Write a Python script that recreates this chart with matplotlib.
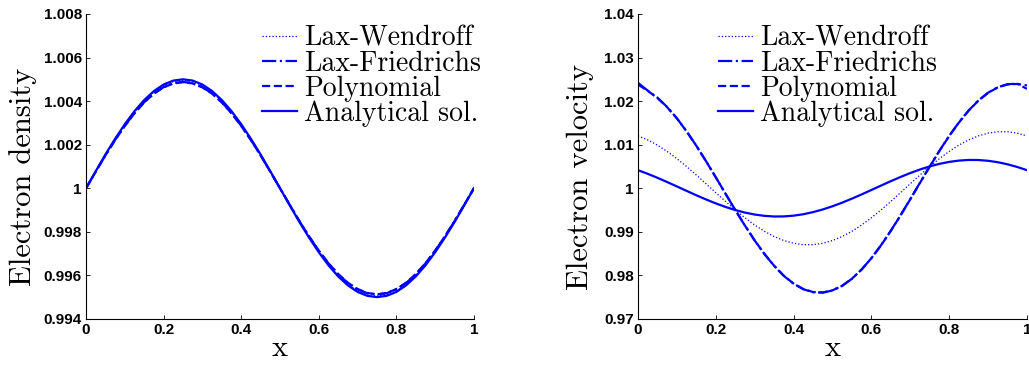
import matplotlib
matplotlib.use('Agg')
import matplotlib.pyplot as plt
import numpy as np

# grid of x values (step 0.025)
x = np.linspace(0, 1, 41)

# left panel: electron density
rho_ana = [1.0, 1.00078, 1.00155, 1.00227, 1.00294, 1.00354, 1.00405, 1.00446, 1.00476, 1.00494,
           1.005, 1.00494, 1.00476, 1.00446, 1.00405, 1.00354, 1.00294, 1.00227, 1.00155, 1.00078,
           1.0, 0.99922, 0.99845, 0.99773, 0.99706, 0.99646, 0.99595, 0.99554, 0.99524, 0.99506,
           0.995, 0.99506, 0.99524, 0.99554, 0.99595, 0.99646, 0.99706, 0.99773, 0.99845, 0.99922, 1.0]
rho_lw = [1.0, 1.00077, 1.00153, 1.00225, 1.00291, 1.0035, 1.004, 1.00441, 1.00471, 1.00489,
          1.00495, 1.00489, 1.00471, 1.00441, 1.004, 1.0035, 1.00291, 1.00225, 1.00153, 1.00077,
          1.0, 0.99923, 0.99847, 0.99775, 0.99709, 0.9965, 0.996, 0.99559, 0.99529, 0.99511,
          0.99505, 0.99511, 0.99529, 0.99559, 0.996, 0.9965, 0.99709, 0.99775, 0.99847, 0.99923, 1.0]
rho_lf = [1.0, 1.00076, 1.00151, 1.00222, 1.00287, 1.00345, 1.00395, 1.00435, 1.00464, 1.00482,
          1.00488, 1.00482, 1.00464, 1.00435, 1.00395, 1.00345, 1.00287, 1.00222, 1.00151, 1.00076,
          1.0, 0.99924, 0.99849, 0.99778, 0.99713, 0.99655, 0.99605, 0.99565, 0.99536, 0.99518,
          0.99512, 0.99518, 0.99536, 0.99565, 0.99605, 0.99655, 0.99713, 0.99778, 0.99849, 0.99924, 1.0]
rho_poly = [1.0, 1.00076, 1.00151, 1.00221, 1.00286, 1.00344, 1.00394, 1.00434, 1.00463, 1.00481,
            1.00487, 1.00481, 1.00463, 1.00434, 1.00394, 1.00344, 1.00286, 1.00221, 1.00151, 1.00076,
            1.0, 0.99924, 0.99849, 0.99779, 0.99714, 0.99656, 0.99606, 0.99566, 0.99537, 0.99519,
            0.99513, 0.99519, 0.99537, 0.99566, 0.99606, 0.99656, 0.99714, 0.99779, 0.99849, 0.99924, 1.0]

# right panel: electron velocity
u_ana = [1.00414, 1.00331, 1.00239, 1.00142, 1.00041, 0.99939, 0.99838, 0.99742, 0.99652, 0.9957,
         0.99499, 0.99441, 0.99396, 0.99366, 0.99351, 0.99353, 0.9937, 0.99403, 0.99451, 0.99512,
         0.99586, 0.99669, 0.99761, 0.99858, 0.99959, 1.00061, 1.00162, 1.00258, 1.00348, 1.0043,
         1.00501, 1.00559, 1.00604, 1.00634, 1.00649, 1.00647, 1.0063, 1.00597, 1.00549, 1.00488, 1.00414]
u_lw = [1.01201, 1.01108, 1.00989, 1.00844, 1.00679, 1.00498, 1.00303, 1.00102, 0.99898, 0.99697,
        0.99502, 0.99321, 0.99156, 0.99011, 0.98892, 0.98799, 0.98736, 0.98704, 0.98704, 0.98736,
        0.98799, 0.98892, 0.99011, 0.99156, 0.99321, 0.99502, 0.99697, 0.99898, 1.00102, 1.00303,
        1.00498, 1.00679, 1.00844, 1.00989, 1.01108, 1.01201, 1.01264, 1.01296, 1.01296, 1.01264, 1.01201]
u_lf = [1.0242, 1.02241, 1.02078, 1.01865, 1.01606, 1.01307, 1.00976, 1.00621, 1.00251, 0.99874,
        0.99501, 0.9914, 0.988, 0.9849, 0.98217, 0.97987, 0.97808, 0.97682, 0.97613, 0.97603,
        0.97653, 0.97759, 0.97922, 0.98135, 0.98394, 0.98693, 0.99024, 0.99379, 0.99749, 1.00126,
        1.00499, 1.0086, 1.012, 1.0151, 1.01783, 1.02013, 1.02192, 1.02318, 1.02387, 1.024, 1.0228]
u_poly = [1.0238, 1.02235, 1.02072, 1.0186, 1.01602, 1.01304, 1.00974, 1.0062, 1.00251, 0.99875,
          0.99503, 0.99143, 0.98804, 0.98494, 0.98221, 0.97991, 0.97812, 0.97686, 0.97617, 0.97607,
          0.97656, 0.97761, 0.97923, 0.98135, 0.98393, 0.98691, 0.99021, 0.99375, 0.99745, 1.00122,
          1.00495, 1.00856, 1.01196, 1.01506, 1.01779, 1.02009, 1.02188, 1.02314, 1.02383, 1.02393, 1.0236]

labels = ['Lax-Wendroff', 'Lax-Friedrichs', 'Polynomial', 'Analytical sol.']
xticks = [0, 0.2, 0.4, 0.6, 0.8, 1]
xticklabels = ['0', '0.2', '0.4', '0.6', '0.8', '1']
rho_ticks = [0.994, 0.996, 0.998, 1.0, 1.002, 1.004, 1.006, 1.008]
rho_ticklabels = ['0.994', '0.996', '0.998', '1', '1.002', '1.004', '1.006', '1.008']
u_ticks = [0.97, 0.98, 0.99, 1.0, 1.01, 1.02, 1.03, 1.04]
u_ticklabels = ['0.97', '0.98', '0.99', '1', '1.01', '1.02', '1.03', '1.04']

blue = '#0000ff'
serif = ['cmr10', 'Liberation Serif']

fig = plt.figure(figsize=(10.29, 3.67), dpi=100)
ax1 = fig.add_axes([0.0836, 0.131, 0.377, 0.831])
ax2 = fig.add_axes([0.620, 0.131, 0.378, 0.831])


def draw(ax, lw, lf, poly, ana, ylabel, yticks, yticklabels, legx, labx):
    ax.plot(x, lw, color=blue, ls=':', lw=0.9, label=labels[0])
    ax.plot(x, lf, color=blue, ls='-.', lw=1.6, label=labels[1])
    ax.plot(x, poly, color=blue, ls='--', lw=1.6, label=labels[2])
    ax.plot(x, ana, color=blue, ls='-', lw=1.6, label=labels[3])
    ax.set_xlim(0, 1)
    ax.set_ylim(yticks[0], yticks[-1])
    ax.set_xticks(xticks)
    ax.set_xticklabels(xticklabels)
    ax.set_yticks(yticks)
    ax.set_yticklabels(yticklabels)
    for s in ['top', 'right']:
        ax.spines[s].set_visible(False)
    for s in ['left', 'bottom']:
        ax.spines[s].set_linewidth(0.8)
    ax.tick_params(direction='in', length=3, width=0.6, pad=3)
    for t in ax.get_xticklabels() + ax.get_yticklabels():
        t.set_fontfamily('Liberation Sans')
        t.set_fontweight('bold')
        t.set_fontsize(11)
    ax.set_xlabel('x', family=serif, fontsize=22, labelpad=-2)
    ax.set_ylabel(ylabel, family=serif, fontsize=22)
    ax.yaxis.set_label_coords(labx, 0.465)
    ax.legend(loc='upper left', bbox_to_anchor=(legx, 0.962), frameon=False,
              prop={'family': serif, 'size': 20}, handlelength=1.25,
              handletextpad=0.25, labelspacing=-0.05, borderpad=0, borderaxespad=0)


draw(ax1, rho_lw, rho_lf, rho_poly, rho_ana, 'Electron density', rho_ticks, rho_ticklabels, 0.454, -0.127)
draw(ax2, u_lw, u_lf, u_poly, u_ana, 'Electron velocity', u_ticks, u_ticklabels, 0.206, -0.112)

fig.savefig('out.png', dpi=100)
